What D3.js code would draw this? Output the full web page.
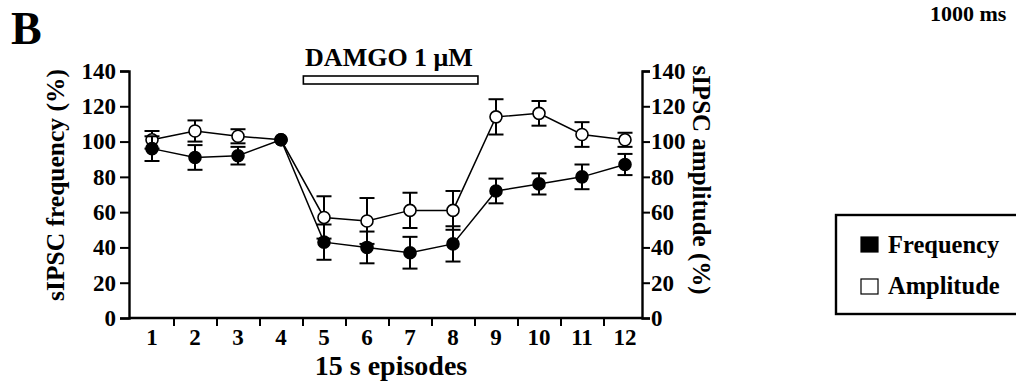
<!DOCTYPE html>
<html>
<head>
<meta charset="utf-8">
<script src="https://cdn.jsdelivr.net/npm/d3@7"></script>
<style>
  body { margin: 0; background: #fff; }
  text { font-family: "Liberation Serif", "DejaVu Serif", serif; font-weight: bold; fill: #000; }
</style>
</head>
<body>
<div id="chart"></div>
<script>
const episodes = [1, 2, 3, 4, 5, 6, 7, 8, 9, 10, 11, 12];
const frequency = [96, 91, 92, 101, 43, 40, 37, 42, 72, 76, 80, 87];
const frequencyErr = [7, 7, 5, 0, 10, 9, 9, 10, 7, 6, 7, 6];
const amplitude = [101, 106, 103, 101, 57, 55, 61, 61, 114, 116, 104, 101];
const amplitudeErr = [5, 6, 4, 0, 12, 13, 10, 11, 10, 7, 7, 4];
const yTicks = [0, 20, 40, 60, 80, 100, 120, 140];
const damgoSpan = [4.52, 8.58];

const width = 1016, height = 385;
const plotLeft = 129, plotRight = 642, plotTop = 71, plotBottom = 318;

const svg = d3.select("#chart").append("svg")
  .attr("width", width)
  .attr("height", height);

const x = d3.scaleLinear().domain([1, 12]).range([152, 625]);
const y = d3.scaleLinear().domain([0, 140]).range([plotBottom, plotTop]);

// axes
const yLeft = svg.append("g")
  .attr("transform", `translate(${plotLeft},0)`)
  .call(d3.axisLeft(y).tickValues(yTicks).tickSize(9).tickPadding(4));
const yRight = svg.append("g")
  .attr("transform", `translate(${plotRight},0)`)
  .call(d3.axisRight(y).tickValues(yTicks).tickSize(8).tickPadding(1));
[yLeft, yRight].forEach(g => {
  g.select(".domain").attr("stroke", "#000").attr("stroke-width", 2.4);
  g.selectAll(".tick line").attr("stroke", "#000").attr("stroke-width", 2);
  g.selectAll(".tick text")
    .attr("font-family", "Liberation Serif")
    .attr("font-weight", "bold")
    .attr("font-size", 23)
    .attr("fill", "#000");
});

const xAxis = svg.append("g")
  .attr("transform", `translate(0,${plotBottom})`)
  .call(d3.axisBottom(x)
    .tickValues(episodes.slice(0, 11).map(d => d + 0.5))
    .tickSize(8)
    .tickFormat(""));
xAxis.select(".domain").attr("d", `M${plotLeft},0H${plotRight}`).attr("stroke", "#000").attr("stroke-width", 2.4);
xAxis.selectAll(".tick line").attr("stroke", "#000").attr("stroke-width", 2);

svg.append("g").selectAll("text")
  .data(episodes)
  .enter()
  .append("text")
  .attr("x", d => x(d))
  .attr("y", 345)
  .attr("text-anchor", "middle")
  .attr("font-size", 23)
  .text(d => d);

// axis titles
svg.append("text")
  .attr("x", 391)
  .attr("y", 375)
  .attr("text-anchor", "middle")
  .attr("font-size", 28)
  .text("15 s episodes");

svg.append("text")
  .attr("transform", "translate(64,185) rotate(-90)")
  .attr("text-anchor", "middle")
  .attr("font-size", 25.5)
  .text("sIPSC frequency (%)");

svg.append("text")
  .attr("transform", "translate(693,180) rotate(90)")
  .attr("text-anchor", "middle")
  .attr("font-size", 25)
  .text("sIPSC amplitude (%)");

// panel letter and scale label
svg.append("text")
  .attr("x", 11)
  .attr("y", 44)
  .attr("font-size", 46)
  .text("B");

svg.append("text")
  .attr("x", 930)
  .attr("y", 21)
  .attr("font-size", 22)
  .text("1000 ms");

// DAMGO bar
svg.append("text")
  .attr("x", 389)
  .attr("y", 66)
  .attr("text-anchor", "middle")
  .attr("font-size", 26)
  .text("DAMGO 1 μM");

svg.append("rect")
  .attr("x", x(damgoSpan[0]))
  .attr("y", 76)
  .attr("width", x(damgoSpan[1]) - x(damgoSpan[0]))
  .attr("height", 8)
  .attr("fill", "#fff")
  .attr("stroke", "#000")
  .attr("stroke-width", 1.6);

// series
function drawSeries(values, errs, fill) {
  const pts = episodes.map((e, i) => ({ e, v: values[i], err: errs[i] }));
  const g = svg.append("g");

  g.append("path")
    .datum(pts)
    .attr("fill", "none")
    .attr("stroke", "#000")
    .attr("stroke-width", 1.5)
    .attr("d", d3.line().x(d => x(d.e)).y(d => y(d.v)));

  const bars = g.selectAll(".err")
    .data(pts.filter(d => d.err > 0))
    .enter()
    .append("g")
    .attr("stroke", "#000")
    .attr("stroke-width", 2);

  bars.append("line")
    .attr("x1", d => x(d.e)).attr("x2", d => x(d.e))
    .attr("y1", d => y(d.v - d.err)).attr("y2", d => y(d.v + d.err));
  bars.append("line")
    .attr("x1", d => x(d.e) - 7.5).attr("x2", d => x(d.e) + 7.5)
    .attr("y1", d => y(d.v - d.err)).attr("y2", d => y(d.v - d.err));
  bars.append("line")
    .attr("x1", d => x(d.e) - 7.5).attr("x2", d => x(d.e) + 7.5)
    .attr("y1", d => y(d.v + d.err)).attr("y2", d => y(d.v + d.err));

  g.selectAll("circle")
    .data(pts)
    .enter()
    .append("circle")
    .attr("cx", d => x(d.e))
    .attr("cy", d => y(d.v))
    .attr("r", 6)
    .attr("fill", fill)
    .attr("stroke", "#000")
    .attr("stroke-width", 1.6);
}

drawSeries(amplitude, amplitudeErr, "#fff");
drawSeries(frequency, frequencyErr, "#000");

// legend
const legend = svg.append("g");
legend.append("rect")
  .attr("x", 836)
  .attr("y", 215)
  .attr("width", 200)
  .attr("height", 99)
  .attr("fill", "#fff")
  .attr("stroke", "#000")
  .attr("stroke-width", 2.4);

const legendItems = [["Frequency", "#000"], ["Amplitude", "#fff"]];
legendItems.forEach(([name, fill], i) => {
  legend.append("rect")
    .attr("x", 861)
    .attr("y", 237 + i * 42)
    .attr("width", 17)
    .attr("height", 15)
    .attr("fill", fill)
    .attr("stroke", "#000")
    .attr("stroke-width", 1.2);
  legend.append("text")
    .attr("x", 888)
    .attr("y", 253 + i * 41)
    .attr("font-size", 24.5)
    .text(name);
});
</script>
</body>
</html>
